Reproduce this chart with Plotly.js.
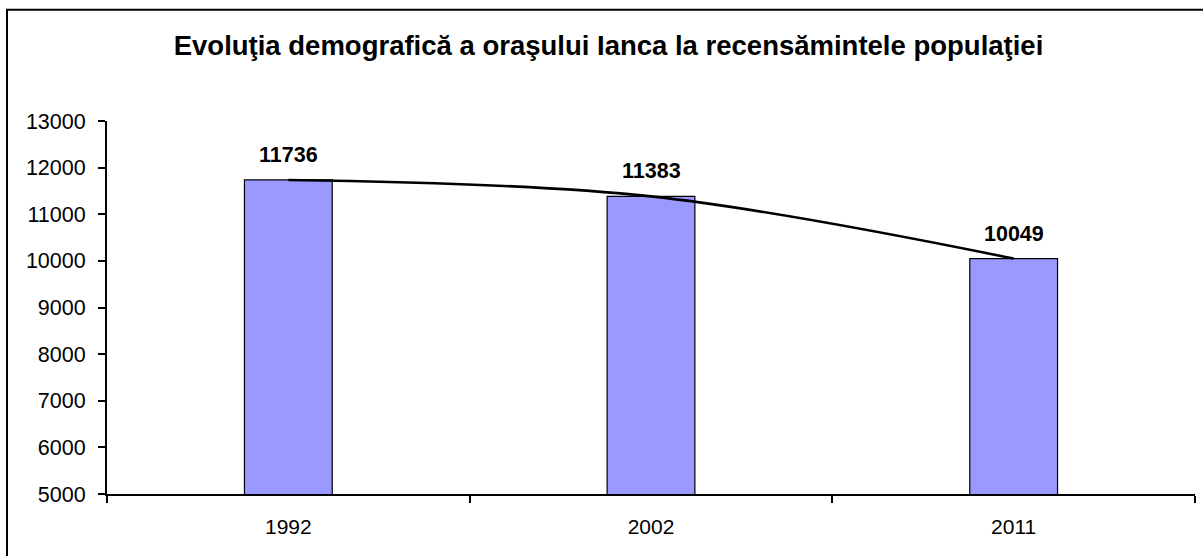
<!DOCTYPE html>
<html>
<head>
<meta charset="utf-8">
<script src="https://cdn.plot.ly/plotly-3.0.1.min.js"></script>
<style>html,body{margin:0;padding:0;background:#fff;}#chart{width:1203px;height:556px;}</style>
</head>
<body>
<div id="chart"></div>
<script>
var chartTitle = "Evoluţia demografică a oraşului Ianca la recensămintele populaţiei";
var years = ["1992", "2002", "2011"];
var population = [11736, 11383, 10049];
var yTicks = [5000, 6000, 7000, 8000, 9000, 10000, 11000, 12000, 13000];

var FONT = "Liberation Sans, Arial, sans-serif";

var bars = {
  type: "bar",
  x: years,
  y: population,
  marker: {color: "#9999FF", line: {color: "#000000", width: 1.2}},
  hoverinfo: "x+y",
  showlegend: false
};

var trend = {
  type: "scatter",
  mode: "lines",
  x: years,
  y: population,
  line: {color: "#000000", width: 2.6, shape: "spline", smoothing: 1},
  hoverinfo: "skip",
  showlegend: false
};

var annotations = years.map(function (yr, i) {
  return {
    x: i, y: population[i], xref: "x", yref: "y",
    text: "<b>" + population[i] + "</b>",
    showarrow: false, yanchor: "bottom", yshift: 11,
    font: {family: FONT, size: 21.5, color: "#000000"}
  };
});

var plotW = 1203 - 107 - 8, plotH = 556 - 120.5 - 62;
var layout = {
  width: 1203, height: 556,
  margin: {l: 107, r: 8, t: 120.5, b: 62, pad: 0},
  paper_bgcolor: "#ffffff", plot_bgcolor: "#ffffff",
  font: {family: FONT, size: 21, color: "#000000"},
  title: {
    text: "<b>" + chartTitle + "</b>",
    font: {family: FONT, size: 27.5, color: "#000000"},
    xref: "container", yref: "container",
    x: 608.5 / 1203, y: 1 - 45 / 556, xanchor: "center", yanchor: "middle"
  },
  bargap: 0.758,
  xaxis: {
    type: "category",
    range: [-0.5, years.length - 0.5],
    showline: true, linecolor: "#000000", linewidth: 2,
    ticks: "outside", tickson: "boundaries", ticklen: 7, tickwidth: 2, tickcolor: "#000000",
    ticklabelstandoff: 13,
    showgrid: false, zeroline: false,
    tickfont: {family: FONT, size: 21, color: "#000000"}
  },
  yaxis: {
    range: [5000, 13000],
    tickvals: yTicks,
    ticktext: yTicks.map(String),
    showline: true, linecolor: "#000000", linewidth: 2,
    ticks: "outside", ticklen: 7, tickwidth: 2, tickcolor: "#000000",
    ticklabelstandoff: 8,
    showgrid: false, zeroline: false,
    tickfont: {family: FONT, size: 21.5, color: "#000000"}
  },
  annotations: annotations,
  shapes: [{
    type: "rect", xref: "paper", yref: "paper",
    x0: (7 - 107) / plotW, x1: 1.2,
    y0: -0.5, y1: 1 + (120.5 - 9) / plotH,
    line: {color: "#000000", width: 2}, fillcolor: "rgba(0,0,0,0)", layer: "above"
  }]
};

Plotly.newPlot("chart", [bars, trend], layout, {displayModeBar: false, staticPlot: true});
</script>
</body>
</html>
